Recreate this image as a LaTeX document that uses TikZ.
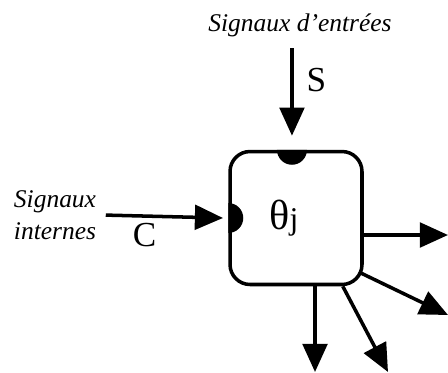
\documentclass[tikz,border=0pt]{standalone}
\usepackage{fontspec}
\setmainfont{Liberation Serif}
\usetikzlibrary{arrows.meta, positioning}

\begin{document}
\begin{tikzpicture}[
        x=0.02cm, y=-0.02cm,
        unit/.style={rectangle, draw=black, line width=2pt, rounded corners=0.4cm, minimum width=2.64cm, minimum height=2.66cm},
        arrow/.style={-{Triangle[length=16pt, width=14pt]}, line width=2pt},
        sig/.style={font=\fontsize{14.5}{18.5}\selectfont\itshape, align=center},
        var/.style={font=\fontsize{20}{20}\selectfont}
    ]
    \useasboundingbox (0,0) rectangle (448,372);

    % Nodes
    \node (unit) [unit] at (296,218) {};
    \node (theta) at (284,218) {\fontsize{24}{24}\selectfont θ{\fontsize{18}{18}\selectfont j}};
    \node (ext) [sig] at (300,25) {Signaux d'entrées};
    \node (int) [sig] at (55,215) {Signaux\\internes};

    \coordinate (top) at ([xshift=-2.3pt]unit.north);
    \coordinate (out1) at (448,235);
    \coordinate (out2) at (448,315);
    \coordinate (out3) at (388,372);
    \coordinate (out4) at (315,372);

    % Connections
    \draw [arrow, shorten <=3pt] (ext.south -| top) -- node[var, right=4pt, pos=0.4] {S} ([yshift=8pt]top);
    \draw [arrow, shorten <=2pt] (int.east) -- node[var, below=0pt, pos=0.35] {C} ([xshift=-3pt]unit.west);

    \draw [arrow] (unit.east |- out1) -- (out1);
    \draw [arrow] ([shift={(-5,54)}]unit.east) -- (out2);
    \draw [arrow] ([xshift=26.6pt]unit.south) -- (out3);
    \draw [arrow] (unit.south -| out4) -- (out4);

    % input sites
    \fill ([xshift=-0.3cm]top) arc[start angle=180, end angle=360, radius=0.3cm] -- cycle;
    \fill ([yshift=0.3cm]unit.west) arc[start angle=90, end angle=-90, radius=0.3cm] -- cycle;

\end{tikzpicture}
\end{document}
